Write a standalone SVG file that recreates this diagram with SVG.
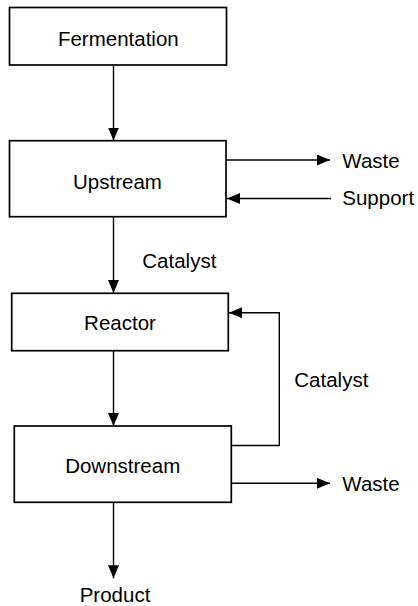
<svg xmlns="http://www.w3.org/2000/svg" width="418" height="606" viewBox="0 0 418 606">
<defs>
<marker id="ah" viewBox="0 0 13 11" refX="13" refY="5.5" markerWidth="13" markerHeight="11" markerUnits="userSpaceOnUse" orient="auto">
<path d="M0,0 L13,5.5 L0,11 Z" fill="#000"/>
</marker>
<style>
.box{fill:#fff;stroke:#000;stroke-width:1.7}
.t{font-family:"Liberation Sans",Arial,Helvetica,sans-serif;font-size:20.5px;fill:#000}
.c{text-anchor:middle}
.ln{fill:none;stroke:#000;stroke-width:1.4}
</style>
</defs>
<rect width="418" height="606" fill="#fff"/>
<g id="connectors">
<line class="ln" x1="113.5" y1="65" x2="113.5" y2="140.5" marker-end="url(#ah)"/>
<line class="ln" x1="226" y1="160" x2="330" y2="160" marker-end="url(#ah)"/>
<line class="ln" x1="331" y1="198.5" x2="227" y2="198.5" marker-end="url(#ah)"/>
<line class="ln" x1="113.5" y1="217" x2="113.5" y2="293" marker-end="url(#ah)"/>
<polyline class="ln" points="231.5,445.5 279.3,445.5 279.3,312.7 229,312.7" marker-end="url(#ah)"/>
<line class="ln" x1="113.5" y1="351" x2="113.5" y2="426" marker-end="url(#ah)"/>
<line class="ln" x1="231.5" y1="483.3" x2="330" y2="483.3" marker-end="url(#ah)"/>
<line class="ln" x1="113.5" y1="502.5" x2="113.5" y2="578.3" marker-end="url(#ah)"/>
<text class="t" x="142.3" y="267.7">Catalyst</text>
<text class="t" x="294.3" y="387.3">Catalyst</text>
<text class="t" x="342.3" y="168.3">Waste</text>
<text class="t" x="342.3" y="205">Support</text>
<text class="t" x="342.3" y="490.7">Waste</text>
<text class="t c" x="115" y="601.7">Product</text>
</g>
<g id="fermentation">
<rect class="box" x="9.5" y="7.5" width="217" height="57.5"/>
<text class="t c" x="118.3" y="46">Fermentation</text>
</g>
<g id="upstream">
<rect class="box" x="9.5" y="140.7" width="216.5" height="76"/>
<text class="t c" x="117.5" y="189">Upstream</text>
</g>
<g id="reactor">
<rect class="box" x="11.7" y="293.3" width="216.6" height="57.4"/>
<text class="t c" x="120" y="330">Reactor</text>
</g>
<g id="downstream">
<rect class="box" x="14.3" y="426" width="217" height="76.3"/>
<text class="t c" x="122.7" y="473.3">Downstream</text>
</g>
</svg>
